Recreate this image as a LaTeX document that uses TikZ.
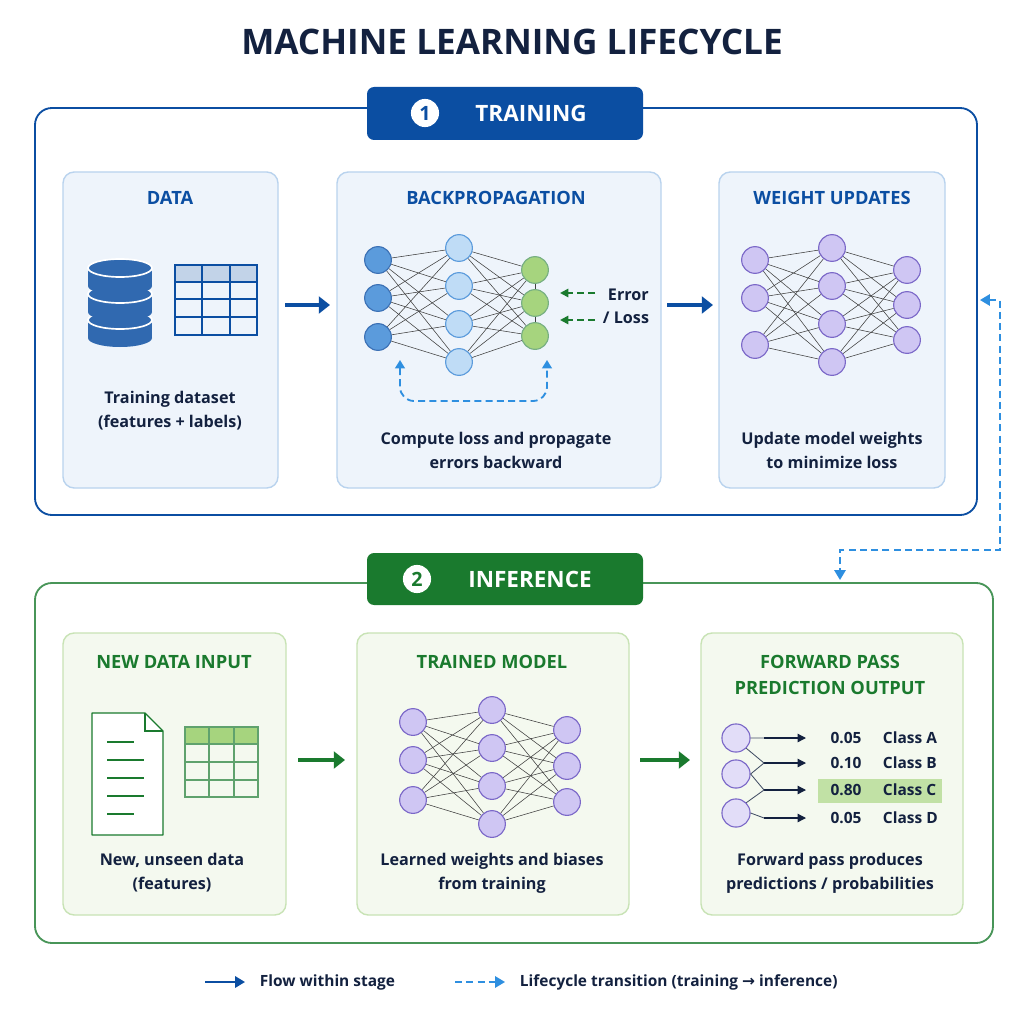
\documentclass[tikz,border=0pt]{standalone}
\usepackage{fontspec}
\setmainfont{Open Sans}
\newfontfamily\arrowfont{DejaVu Sans}
\usetikzlibrary{arrows.meta,calc}
\definecolor{navy}{HTML}{13213F}
\definecolor{tblue}{HTML}{0B4EA2}
\definecolor{lblue}{HTML}{EEF4FB}
\definecolor{bblue}{HTML}{B9D3EE}
\definecolor{tgreen}{HTML}{1A7A2E}
\definecolor{lgreen}{HTML}{F4F9EF}
\definecolor{bgreen}{HTML}{C8E3B5}
\definecolor{dashc}{HTML}{2E8FE0}
\definecolor{pfill}{HTML}{CFC6F3}
\definecolor{pdraw}{HTML}{7B68C8}
\definecolor{nblue}{HTML}{5B9BDC}
\definecolor{nlblue}{HTML}{BFDCF6}
\definecolor{ngreen}{HTML}{A6D47E}
\tikzset{
 panelB/.style={draw=bblue,fill=lblue,rounded corners=8pt,line width=1pt},
 panelG/.style={draw=bgreen,fill=lgreen,rounded corners=8pt,line width=1pt},
 ptitle/.style={font=\bfseries\fontsize{13}{15}\selectfont,align=center},
 ptext/.style={font=\fontsize{11.5}{17}\selectfont\bfseries,text=navy,align=center},
 neu/.style={circle,minimum size=19pt,inner sep=0pt,line width=0.8pt},
 edge/.style={draw=black!75,line width=0.4pt},
 flowB/.style={-{Triangle[length=8pt,width=12pt]},line width=3.5pt,tblue},
 flowG/.style={-{Triangle[length=8pt,width=12pt]},line width=3.5pt,tgreen},
 trans/.style={draw=dashc,line width=1.3pt,dash pattern=on 5pt off 3pt},
}
\begin{document}
\begin{tikzpicture}[x=0.025cm,y=-0.025cm]
\useasboundingbox[fill=white] (0,0) rectangle (1024,1024);
\node[font=\bfseries\fontsize{25}{28}\selectfont,text=navy] (title) at (512,42) {MACHINE LEARNING LIFECYCLE};
% training
\draw[tblue,line width=1.3pt,rounded corners=12pt] (35,108) rectangle (977,515);
\fill[tblue,rounded corners=5pt] (367,87) rectangle (643,140);
\node[circle,fill=white,text=tblue,inner sep=1pt,minimum size=20pt,font=\bfseries\fontsize{14}{14}\selectfont] (c1n) at (425,113) {1};
\node[text=white,font=\bfseries\fontsize{16}{18}\selectfont] (tlab) at (531,113) {TRAINING};
\draw[panelB] (63,172) rectangle (278,488);
\draw[panelB] (337,172) rectangle (661,488);
\draw[panelB] (719,172) rectangle (945,488);
\node[ptitle,text=tblue] (h1) at (170,198) {DATA};
\node[ptitle,text=tblue] (h2) at (496,198) {BACKPROPAGATION};
\node[ptitle,text=tblue] (h3) at (832,198) {WEIGHT UPDATES};
% database
\foreach \y in {320,294,268}{
 \fill[tblue!85] (88,\y) rectangle (152,\y+18);
 \fill[tblue!85] (120,\y+18) ellipse (32 and 9);
 \draw[white,line width=1.2pt,fill=tblue!85] (120,\y) ellipse (32 and 9);
}
% table
\fill[tblue!25] (175,265) rectangle (257,282);
\draw[tblue,line width=0.9pt] (175,265) rectangle (257,335);
\foreach \y in {282,299,317} \draw[tblue,line width=0.9pt] (175,\y) -- (257,\y);
\foreach \x in {202,230} \draw[tblue,line width=0.9pt] (\x,265) -- (\x,335);
\node[ptext] (t1) at (170,411) {Training dataset\\(features + labels)};
% backprop net
\foreach \i/\y in {1/260,2/298,3/337} \node[neu,fill=nblue,draw=tblue!80] (a\i) at (378,\y) {};
\foreach \i/\y in {1/248,2/286,3/324,4/362} \node[neu,fill=nlblue,draw=nblue] (b\i) at (459,\y) {};
\foreach \i/\y in {1/270,2/303,3/336} \node[neu,fill=ngreen,draw=tgreen!60] (c\i) at (535,\y) {};
\foreach \i in {1,2,3} \foreach \j in {1,2,3,4} \draw[edge] (a\i) -- (b\j);
\foreach \j in {1,2,3,4} \foreach \k in {1,2,3} \draw[edge] (b\j) -- (c\k);
\draw[edge] (c1) -- (c2) (c2) -- (c3);
\coordinate (e1) at (595,293); \coordinate (e1t) at (560,293);
\coordinate (e2) at (595,320); \coordinate (e2t) at (560,320);
\draw[tgreen,line width=1.3pt,dash pattern=on 5pt off 3pt,-{Triangle[length=6pt,width=6pt]}] (e1) -- (e1t);
\draw[tgreen,line width=1.3pt,dash pattern=on 5pt off 3pt,-{Triangle[length=6pt,width=6pt]}] (e2) -- (e2t);
\node[ptext,anchor=west] (err) at (603,295) {Error};
\node[ptext,anchor=west] (loss) at (598,318) {/ Loss};
\coordinate (la) at (400,360); \coordinate (lb) at (547,360);
\draw[trans,{Triangle[length=6pt,width=7pt]}-{Triangle[length=6pt,width=7pt]},rounded corners=10pt] (la) -- (400,401) -- (547,401) -- (lb);
\node[ptext] (t2) at (496,450) {Compute loss and propagate\\errors backward};
% weight net
\foreach \i/\y in {1/260,2/298,3/345} \node[neu,fill=pfill,draw=pdraw] (p\i) at (755,\y) {};
\foreach \i/\y in {1/248,2/286,3/324,4/362} \node[neu,fill=pfill,draw=pdraw] (q\i) at (832,\y) {};
\foreach \i/\y in {1/270,2/305,3/340} \node[neu,fill=pfill,draw=pdraw] (r\i) at (907,\y) {};
\foreach \i in {1,2,3} \foreach \j in {1,2,3,4} \draw[edge] (p\i) -- (q\j);
\foreach \j in {1,2,3,4} \foreach \k in {1,2,3} \draw[edge] (q\j) -- (r\k);
\node[ptext] (t3) at (832,450) {Update model weights\\to minimize loss};
\draw[flowB] (285,305) coordinate (fa) -- (330,305) coordinate (fb);
\draw[flowB] (667,305) coordinate (fc) -- (713,305) coordinate (fd);
% transition
\coordinate (s1) at (980,300); \coordinate (s2) at (840,580);
\draw[trans,{Triangle[length=7pt,width=8pt]}-{Triangle[length=7pt,width=8pt]}] (s1) -- (1000,300) -- (1000,550) -- (840,550) -- (s2);
% inference
\draw[tgreen!80,line width=1.3pt,rounded corners=12pt] (35,583) rectangle (993,943);
\fill[tgreen,rounded corners=5pt] (367,553) rectangle (643,605);
\node[circle,fill=white,text=tgreen,inner sep=1pt,minimum size=20pt,font=\bfseries\fontsize{14}{14}\selectfont] (c2n) at (417,579) {2};
\node[text=white,font=\bfseries\fontsize{16}{18}\selectfont] (ilab) at (530,579) {INFERENCE};
\draw[panelG] (63,633) rectangle (286,915);
\draw[panelG] (357,633) rectangle (629,915);
\draw[panelG] (701,633) rectangle (963,915);
\node[ptitle,text=tgreen] (g1) at (174,662) {NEW DATA INPUT};
\node[ptitle,text=tgreen] (g2) at (492,662) {TRAINED MODEL};
\node[ptitle,text=tgreen,font=\bfseries\fontsize{13}{18}\selectfont] (g3) at (830,675) {FORWARD PASS\\PREDICTION OUTPUT};
% document
\draw[tgreen,line width=0.9pt,fill=white,line join=round] (92,713) -- (145,713) -- (163,731) -- (163,835) -- (92,835) -- cycle;
\draw[tgreen,line width=0.9pt] (145,713) -- (145,731) -- (163,731);
\foreach \y/\l in {742/27,760/37,778/37,796/37,814/27} \draw[tgreen,line width=1.3pt] (107,\y) -- ++(\l,0);
% green table
\fill[ngreen] (185,727) rectangle (258,744);
\draw[tgreen!70,line width=0.9pt] (185,727) rectangle (258,797);
\foreach \y in {744,762,780} \draw[tgreen!70,line width=0.9pt] (185,\y) -- (258,\y);
\foreach \x in {209,234} \draw[tgreen!70,line width=0.9pt] (\x,727) -- (\x,797);
\node[ptext] (t4) at (172,873) {New, unseen data\\(features)};
% trained net
\foreach \i/\y in {1/722,2/760,3/800} \node[neu,fill=pfill,draw=pdraw] (u\i) at (413,\y) {};
\foreach \i/\y in {1/710,2/748,3/786,4/824} \node[neu,fill=pfill,draw=pdraw] (v\i) at (492,\y) {};
\foreach \i/\y in {1/730,2/766,3/802} \node[neu,fill=pfill,draw=pdraw] (w\i) at (567,\y) {};
\foreach \i in {1,2,3} \foreach \j in {1,2,3,4} \draw[edge] (u\i) -- (v\j);
\foreach \j in {1,2,3,4} \foreach \k in {1,2,3} \draw[edge] (v\j) -- (w\k);
\node[ptext] (t5) at (492,873) {Learned weights and biases\\from training};
\draw[flowG] (298,760) coordinate (ga) -- (345,760) coordinate (gb);
\draw[flowG] (640,760) coordinate (gc) -- (690,760) coordinate (gd);
% forward output
\fill[ngreen!70] (818,779) rectangle (942,803);
\foreach \i/\y in {1/738,2/774,3/813} \node[neu,minimum size=20pt,fill=pfill!60,draw=pdraw] (o\i) at (736,\y) {};
\foreach \i/\y/\n/\c in {1/738/0.05/A,2/763/0.10/B,3/790/0.80/C,4/818/0.05/D}{
 \coordinate (s\i) at (764,\y);
 \draw[navy,line width=0.9pt,-{Triangle[length=6pt,width=6pt]}] (s\i) -- (806,\y) coordinate (ar\i);
 \node[ptext,font=\fontsize{11}{13}\selectfont\bfseries] (n\i) at (846,\y) {\n};
 \node[ptext,font=\fontsize{11}{13}\selectfont\bfseries,anchor=west] (k\i) at (878,\y) {Class \c};
}
\draw[navy!80,line width=0.6pt] (o1.south east) -- (s2) (o2.east) -- (s2) (o2.east) -- (s3) (o3.north east) -- (s3) (o1.east) -- (s1) (o3.east) -- (s4);
\node[ptext] (t6) at (830,873) {Forward pass produces\\predictions / probabilities};
% legend
\draw[-{Triangle[length=7pt,width=8pt]},tblue,line width=1.5pt] (205,982) coordinate (l1) -- (245,982) coordinate (l2);
\node[ptext,font=\fontsize{11}{13}\selectfont\bfseries,anchor=west] (lt1) at (255,982) {Flow within stage};
\draw[trans,-{Triangle[length=7pt,width=8pt]}] (455,982) coordinate (l3) -- (505,982) coordinate (l4);
\node[ptext,font=\fontsize{11}{13}\selectfont\bfseries,anchor=west] (lt2) at (515,982) {Lifecycle transition (training {\arrowfont →} inference)};
\end{tikzpicture}
\end{document}
